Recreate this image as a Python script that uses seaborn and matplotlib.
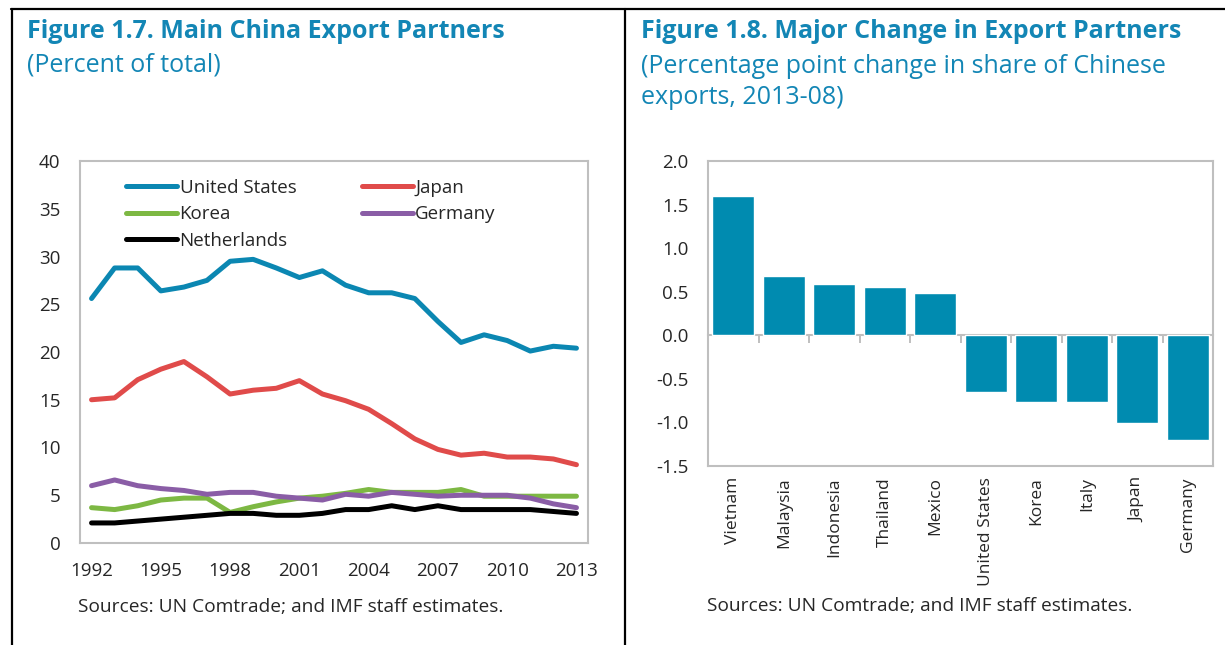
"""China export partners: two-panel recreation (line + bar)"""
import matplotlib
matplotlib.use('Agg')
import matplotlib.pyplot as plt
import seaborn as sns
import pandas as pd
from matplotlib.lines import Line2D

# Figure 1.7 data (percent of total)
years = list(range(1992, 2014))
united_states = [25.6, 28.8, 28.8, 26.4, 26.8, 27.5, 29.5, 29.7, 28.8, 27.8, 28.5,
                 27.0, 26.2, 26.2, 25.6, 23.2, 21.0, 21.8, 21.2, 20.1, 20.6, 20.4]
japan = [15.0, 15.2, 17.1, 18.2, 19.0, 17.4, 15.6, 16.0, 16.2, 17.0, 15.6,
         14.9, 14.0, 12.5, 10.9, 9.8, 9.2, 9.4, 9.0, 9.0, 8.8, 8.2]
korea = [3.7, 3.5, 3.9, 4.5, 4.7, 4.7, 3.2, 3.8, 4.3, 4.7, 4.9,
         5.2, 5.6, 5.3, 5.3, 5.3, 5.6, 4.9, 4.9, 4.9, 4.9, 4.9]
germany = [6.0, 6.6, 6.0, 5.7, 5.5, 5.1, 5.3, 5.3, 4.9, 4.7, 4.5,
           5.1, 4.9, 5.3, 5.1, 4.9, 5.0, 5.0, 5.0, 4.7, 4.1, 3.7]
netherlands = [2.1, 2.1, 2.3, 2.5, 2.7, 2.9, 3.1, 3.1, 2.9, 2.9, 3.1,
               3.5, 3.5, 3.9, 3.5, 3.9, 3.5, 3.5, 3.5, 3.5, 3.3, 3.1]
partners = ['United States', 'Japan', 'Korea', 'Germany', 'Netherlands']
line_colors = ['#0B87B2', '#E04B4A', '#7DB843', '#8A5DA6', '#000000']

# Figure 1.8 data (percentage point change, 2013-08)
countries = ['Vietnam', 'Malaysia', 'Indonesia', 'Thailand', 'Mexico',
             'United States', 'Korea', 'Italy', 'Japan', 'Germany']
share_change = [1.6, 0.68, 0.59, 0.55, 0.48, -0.65, -0.76, -0.76, -1.01, -1.2]
bar_color = '#008BB0'

TITLE_BLUE = '#1386B5'
GRID_GRAY = '#BFBFBF'
FONT = ['Open Sans', 'DejaVu Sans']

sns.set_style('white')
plt.rcParams['font.family'] = FONT
plt.rcParams['axes.unicode_minus'] = False

W, H = 1225, 645
fig = plt.figure(figsize=(W / 100, H / 100), dpi=100)


def box(l, t, r, b):
    return [l / W, (H - b) / H, (r - l) / W, (b - t) / H]


# outer frame (top, left, middle divider)
for x0, y0, x1, y1 in [(11, 9, W, 9), (12, 9, 12, H), (625, 9, 625, H)]:
    fig.add_artist(Line2D([x0 / W, x1 / W], [1 - y0 / H, 1 - y1 / H],
                          transform=fig.transFigure, color='black', lw=1.6))

# ---------------- left panel ----------------
fig.text(27 / W, 1 - 31 / H, 'Figure 1.7. Main China Export Partners',
         color=TITLE_BLUE, fontsize=18, fontweight='bold', va='center')
fig.text(27 / W, 1 - 65 / H, '(Percent of total)', color=TITLE_BLUE,
         fontsize=18, va='center')

long_df = pd.DataFrame({
    'year': years * 5,
    'share': united_states + japan + korea + germany + netherlands,
    'partner': sum([[p] * len(years) for p in partners], []),
})

ax1 = fig.add_axes(box(80, 161, 588, 543))
sns.lineplot(data=long_df, x='year', y='share', hue='partner',
             hue_order=partners, palette=line_colors, lw=3.6, ax=ax1,
             legend=False)
ax1.set_xlim(1991.5, 2013.5)
ax1.set_ylim(0, 40)
ax1.set_yticks(range(0, 41, 5))
ax1.set_xticks(range(1992, 2014, 3))
ax1.set_xticks([y + 0.5 for y in years[:-1]], minor=True)
ax1.tick_params(axis='x', which='major', length=0, pad=14, labelsize=13.5)
ax1.tick_params(axis='x', which='minor', direction='in', length=6,
                color=GRID_GRAY, width=1.2)
ax1.tick_params(axis='y', direction='in', length=4, color=GRID_GRAY,
                width=1.2, pad=14, labelsize=13.5)
ax1.set_xlabel('')
ax1.set_ylabel('')
for sp in ax1.spines.values():
    sp.set_color(GRID_GRAY)
    sp.set_linewidth(1.5)

handles = [Line2D([], [], color=c, lw=3.6) for c in line_colors]
order = [0, 2, 4, 1, 3]
ax1.legend([handles[i] for i in order], [partners[i] for i in order],
           ncol=2, loc='upper left', bbox_to_anchor=(0.063, 0.99),
           frameon=False, fontsize=13.5, handlelength=2.7, handletextpad=0.15,
           columnspacing=3.5, labelspacing=0.45, borderaxespad=0.35)

fig.text(78 / W, 1 - 607 / H, 'Sources: UN Comtrade; and IMF staff estimates.',
         fontsize=13.8, va='center')

# ---------------- right panel ----------------
fig.text(641 / W, 1 - 31 / H, 'Figure 1.8. Major Change in Export Partners',
         color=TITLE_BLUE, fontsize=18, fontweight='bold', va='center')
fig.text(641 / W, 1 - 82 / H,
         '(Percentage point change in share of Chinese\nexports, 2013-08)',
         color=TITLE_BLUE, fontsize=18, va='center', linespacing=1.3)

ax2 = fig.add_axes(box(708, 161, 1213, 466))
sns.barplot(x=countries, y=share_change, color=bar_color, saturation=1,
            width=0.83, ax=ax2)
ax2.set_xlim(-0.5, len(countries) - 0.5)
ax2.set_ylim(-1.5, 2.0)
ax2.set_yticks([-1.5, -1.0, -0.5, 0.0, 0.5, 1.0, 1.5, 2.0])
ax2.set_yticklabels([f'{v:.1f}' for v in ax2.get_yticks()])
ax2.tick_params(axis='y', direction='in', length=4, color=GRID_GRAY,
                width=1.2, pad=14, labelsize=13.5)
ax2.tick_params(axis='x', length=0, pad=8, labelsize=12.5, labelrotation=90)
for sp in ax2.spines.values():
    sp.set_color(GRID_GRAY)
    sp.set_linewidth(1.5)

# zero line with category boundary ticks
zero_frac = (0 - (-1.5)) / (2.0 - (-1.5))
zero_ax = ax2.secondary_xaxis(zero_frac)
zero_ax.set_xticks([i + 0.5 for i in range(len(countries) - 1)], labels=[])
zero_ax.tick_params(direction='out', length=6, color=GRID_GRAY, width=1.4)
zero_ax.spines['bottom'].set_color(GRID_GRAY)
zero_ax.spines['bottom'].set_linewidth(1.5)

fig.text(707 / W, 1 - 606 / H, 'Sources: UN Comtrade; and IMF staff estimates.',
         fontsize=13.8, va='center')

fig.savefig('out.png', dpi=100)
